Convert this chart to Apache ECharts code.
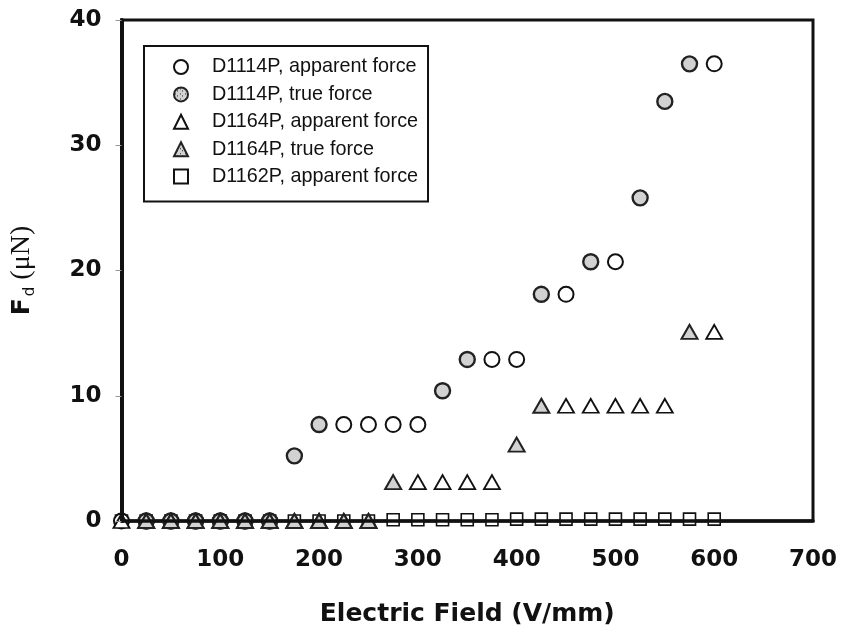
<!DOCTYPE html>
<html>
<head>
<meta charset="utf-8">
<script src="https://cdn.jsdelivr.net/npm/echarts@6/dist/echarts.min.js"></script>
<style>
  html, body { margin: 0; padding: 0; background: #fff; }
  #chart { width: 844px; height: 632px; }
</style>
</head>
<body>
<div id="chart"></div>
<script>
// values (x in V/mm, y in uN)
var xTicks = [0, 100, 200, 300, 400, 500, 600, 700];
var yTicks = [0, 10, 20, 30, 40];

var d1114App_x = [0, 25, 50, 75, 100, 125, 150, 225, 250, 275, 300, 375, 400, 450, 500, 600];
var d1114App_y = [0, 0, 0, 0, 0, 0, 0, 7.7, 7.7, 7.7, 7.7, 12.9, 12.9, 18.1, 20.7, 36.5];

var d1114True_x = [25, 50, 75, 100, 125, 150, 175, 200, 325, 350, 425, 475, 525, 550, 575];
var d1114True_y = [0, 0, 0, 0, 0, 0, 5.2, 7.7, 10.4, 12.9, 18.1, 20.7, 25.8, 33.5, 36.5];

var d1164App_x = [0, 25, 50, 75, 100, 125, 150, 175, 200, 225, 250, 300, 325, 350, 375, 450, 475, 500, 525, 550, 600];
var d1164App_y = [0, 0, 0, 0, 0, 0, 0, 0, 0, 0, 0, 3.1, 3.1, 3.1, 3.1, 9.2, 9.2, 9.2, 9.2, 9.2, 15.1];

var d1164True_x = [25, 50, 75, 100, 125, 150, 175, 200, 225, 250, 275, 400, 425, 575];
var d1164True_y = [0, 0, 0, 0, 0, 0, 0, 0, 0, 0, 3.1, 6.1, 9.2, 15.1];

var d1162App_x = [0, 25, 50, 75, 100, 125, 150, 175, 200, 225, 250, 275, 300, 325, 350, 375, 400, 425, 450, 475, 500, 525, 550, 575, 600];
var d1162App_y = [0, 0, 0, 0, 0, 0, 0, 0, 0, 0, 0, 0.1, 0.1, 0.1, 0.1, 0.1, 0.15, 0.15, 0.15, 0.15, 0.15, 0.15, 0.15, 0.15, 0.15];

var names = ['D1114P, apparent force', 'D1114P, true force', 'D1164P, apparent force', 'D1164P, true force', 'D1162P, apparent force'];

function pairs(xs, ys) {
  return xs.map(function (x, i) { return [x, ys[i]]; });
}

// dotted grey fill used for the "true force" markers
var pat = document.createElement('canvas');
pat.width = 5;
pat.height = 5;
var pctx = pat.getContext('2d');
pctx.fillStyle = '#d2d2d2';
pctx.fillRect(0, 0, 5, 5);
pctx.fillStyle = '#222';
pctx.fillRect(1, 1, 1, 1);
pctx.fillRect(3, 3, 1, 1);
var dotted = { image: pat, repeat: 'repeat' };

var tickFont = 'DejaVu Sans';

var chart = echarts.init(document.getElementById('chart'), null, { renderer: 'canvas' });
chart.setOption({
  backgroundColor: '#fff',
  animation: false,
  grid: {
    left: 120, right: 31, top: 20, bottom: 110,
    show: true,
    borderColor: '#111',
    borderWidth: 3,
    backgroundColor: '#fff'
  },
  legend: {
    orient: 'vertical',
    left: 144,
    top: 46,
    data: names,
    itemWidth: 14,
    itemHeight: 14,
    itemGap: 7.4,
    padding: [11, 10, 15, 29],
    borderColor: '#111',
    borderWidth: 2,
    backgroundColor: '#fff',
    textStyle: {
      fontFamily: 'Liberation Sans',
      fontSize: 19.8,
      lineHeight: 19,
      color: '#111',
      padding: [0, 0, 0, 19]
    }
  },
  xAxis: {
    type: 'value',
    min: 0,
    max: 700,
    interval: 100,
    z: 5,
    name: 'Electric Field (V/mm)',
    nameLocation: 'middle',
    nameGap: 81,
    nameTextStyle: {
      fontFamily: tickFont,
      fontWeight: 'bold',
      fontSize: 25,
      color: '#111'
    },
    axisLine: { onZero: false, lineStyle: { color: '#111', width: 3.5 } },
    axisTick: { show: false },
    splitLine: { show: false },
    axisLabel: {
      margin: 28,
      fontFamily: tickFont,
      fontWeight: 'bold',
      fontSize: 23,
      color: '#111'
    }
  },
  yAxis: {
    type: 'value',
    min: 0,
    max: 40,
    interval: 10,
    z: 5,
    name: '{f|F}{d|d}{u| (\u03bcN)}',
    nameLocation: 'middle',
    nameGap: 84,
    nameTextStyle: {
      rich: {
        f: { fontFamily: tickFont, fontWeight: 'bold', fontSize: 25, color: '#111' },
        d: { fontFamily: tickFont, fontSize: 15, color: '#111', padding: [16, 0, 0, 2] },
        u: { fontFamily: 'Liberation Serif', fontSize: 28, color: '#111' }
      }
    },
    axisLine: { lineStyle: { color: '#111', width: 4 } },
    axisTick: { show: true, inside: false, length: 6, lineStyle: { color: '#999', width: 1 } },
    splitLine: { show: false },
    axisLabel: {
      margin: 20,
      fontFamily: tickFont,
      fontWeight: 'bold',
      fontSize: 23,
      color: '#111'
    }
  },
  series: [
    {
      name: names[4],
      type: 'scatter',
      symbol: 'rect',
      symbolSize: 12,
      itemStyle: { color: '#fff', borderColor: '#111', borderWidth: 1.6, opacity: 1 },
      data: pairs(d1162App_x, d1162App_y)
    },
    {
      name: names[0],
      type: 'scatter',
      symbol: 'circle',
      symbolSize: 15,
      itemStyle: { color: '#fff', borderColor: '#111', borderWidth: 2, opacity: 1 },
      data: pairs(d1114App_x, d1114App_y)
    },
    {
      name: names[1],
      type: 'scatter',
      symbol: 'circle',
      symbolSize: 15,
      itemStyle: { color: dotted, borderColor: '#222', borderWidth: 2.4, opacity: 1 },
      data: pairs(d1114True_x, d1114True_y)
    },
    {
      name: names[2],
      type: 'scatter',
      symbol: 'triangle',
      symbolSize: [16, 14],
      itemStyle: { color: '#fff', borderColor: '#111', borderWidth: 1.8, opacity: 1 },
      data: pairs(d1164App_x, d1164App_y)
    },
    {
      name: names[3],
      type: 'scatter',
      symbol: 'triangle',
      symbolSize: [16, 14],
      itemStyle: { color: dotted, borderColor: '#222', borderWidth: 2, opacity: 1 },
      data: pairs(d1164True_x, d1164True_y)
    }
  ]
});
</script>
</body>
</html>
